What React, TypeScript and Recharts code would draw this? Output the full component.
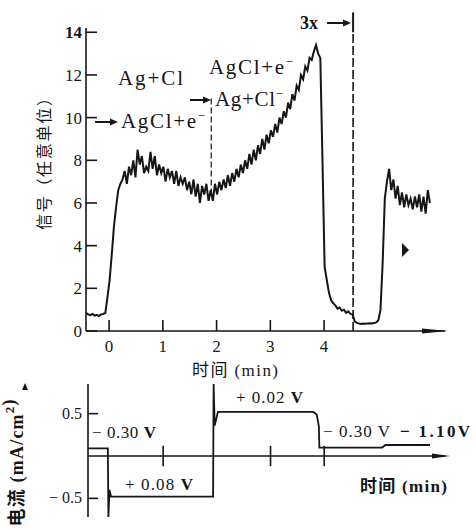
import React from 'react';
import { LineChart, Line, XAxis, YAxis, ReferenceLine } from 'recharts';

const INK = '#161616';
const SERIF = "'Liberation Serif', 'DejaVu Serif', 'Noto Sans CJK SC', serif";
const CJK = "'Noto Sans CJK SC', sans-serif";

const signalStart = -0.43;
const signalStep = 0.04;
const signalValues = [
  0.85, 0.78, 0.74, 0.8, 0.72, 0.76, 0.7, 0.78, 0.8,
  0.85, 1.6, 2.4, 3.6, 4.9, 5.8, 6.6, 6.9, 7.1,
  7.5, 6.9, 7.7, 7.3, 8.0, 7.2, 8.5, 7.8, 8.2, 7.4, 7.7, 7.5, 8.4, 7.6, 8.2, 7.3, 7.8, 7.4, 7.7, 7.0,
  7.6, 7.2, 7.5, 6.9, 7.5, 6.8, 7.2, 6.9, 7.2, 6.6, 7.0, 6.4, 7.1, 6.3, 6.9, 6.0, 6.8, 6.4, 6.9, 6.1, 6.6,
  6.1, 6.9, 6.4, 7.0, 6.6, 7.1, 6.7, 7.3, 6.8, 7.4, 7.0, 7.6, 7.2, 7.8, 7.4, 8.0, 7.6, 8.3, 7.8, 8.5,
  8.0, 8.7, 8.3, 9.0, 8.5, 9.2, 8.8, 9.4, 9.1, 9.7, 9.3, 10.0, 9.7, 10.3, 10.0, 10.7, 10.4, 11.1, 10.8,
  11.5, 11.3, 12.0, 11.8, 12.4, 12.2, 12.8, 12.7, 13.1, 13.4,
  13.0, 12.8, 8.0, 3.0, 2.4, 1.8, 1.45, 1.3, 1.2, 1.05, 1.1, 0.95, 1.0, 0.85, 0.92, 0.8, 0.78, 0.45, 0.38,
  0.35, 0.33, 0.35, 0.34, 0.35, 0.36, 0.35, 0.37, 0.4,
  0.5, 1.0, 3.2, 6.2, 7.0, 7.6, 6.6,
  7.1, 6.2, 6.8, 5.9, 6.5, 5.8, 6.4, 5.9, 6.2, 5.7, 6.3, 5.8, 6.4, 5.6, 6.3, 5.5, 6.6, 6.0,
];
const signalTicksX = [0, 1, 2, 3, 4];
const signalTicksY = [0, 2, 4, 6, 8, 10, 12, 14];

// bottom panel: current density (mA/cm2) under the potential steps
const currentTimes = [-0.4, -0.03, -0.02, 0.0, 0.03, 1.93, 1.94, 1.96, 2.02, 3.8, 3.86, 3.9, 3.91, 5.08, 5.14, 5.97];
const currentValues = [0.09, 0.09, -0.72, -0.4, -0.48, -0.48, 0.85, 0.36, 0.52, 0.52, 0.49, 0.35, 0.1, 0.1, 0.13, 0.13];
const currentTicksX = [1, 3, 4];
const currentTicksY = [-0.5, 0.5];

const signalData = signalValues.map((v, i) => ({ t: signalStart + i * signalStep, v }));
const currentData = currentTimes.map((t, i) => ({ t, i: currentValues[i] }));

const SignalXTick = (props: any) => {
  const { x, y, payload } = props;
  return (
    <g>
      <line x1={x} y1={y} x2={x} y2={y - 11} stroke={INK} strokeWidth={1.6} />
      <text x={x} y={y + 21} textAnchor="middle" fontFamily={SERIF} fontSize={17} fill={INK}>
        {payload.value}
      </text>
    </g>
  );
};

const SignalYTick = (props: any) => {
  const { x, y, payload } = props;
  const top = payload.value === 14;
  return (
    <g>
      <line x1={x} y1={y} x2={x + 11} y2={y} stroke={INK} strokeWidth={1.6} />
      <text
        x={x - 4}
        y={y + 6}
        textAnchor="end"
        fontFamily={SERIF}
        fontSize={17}
        fontWeight={top ? 'bold' : 'normal'}
        fill={INK}
      >
        {payload.value}
      </text>
    </g>
  );
};

const CurrentYTick = (props: any) => {
  const { x, y, payload } = props;
  const label = payload.value < 0 ? '− 0.5' : '0.5';
  return (
    <g>
      <line x1={x} y1={y} x2={x + 10} y2={y} stroke={INK} strokeWidth={1.6} />
      <text x={x - 6} y={y + 5} textAnchor="end" fontFamily={SERIF} fontSize={16} fill={INK}>
        {label}
      </text>
    </g>
  );
};

const Sup = ({ children }: { children: React.ReactNode }) => (
  <tspan dy={-8} fontSize={13}>{children}</tspan>
);

const Annotations = () => (
  <svg width={476} height={530} style={{ position: 'absolute', left: 0, top: 0, pointerEvents: 'none' }}>
    <g fill={INK} stroke="none">
      {/* axis arrow heads */}
      <polygon points="422,328.5 448,331 422,333.5" />
      <polygon points="432,453.5 450,456 432,458.5" />

      {/* top panel axis labels */}
      <text
        x={43}
        y={160}
        transform="rotate(-90 43 160)"
        textAnchor="middle"
        dominantBaseline="central"
        fontFamily={CJK}
        fontSize={16}
        textLength={140}
        lengthAdjust="spacing"
      >
        信号（任意单位）
      </text>
      <text x={192} y={376} fontFamily={SERIF} fontSize={17} textLength={86} lengthAdjust="spacing">
        时间 (min)
      </text>

      {/* reaction labels */}
      <text x={118} y={85} fontFamily={SERIF} fontSize={21} textLength={65} lengthAdjust="spacing">
        Ag+Cl
      </text>
      <line x1={95} y1={122} x2={112} y2={122} stroke={INK} strokeWidth={2} />
      <polygon points="110,118.5 118,122 110,125.5" />
      <text x={121} y={128} fontFamily={SERIF} fontSize={21} textLength={84} lengthAdjust="spacing">
        AgCl+e<Sup>−</Sup>
      </text>

      <text x={209} y={74} fontFamily={SERIF} fontSize={21} textLength={84} lengthAdjust="spacing">
        AgCl+e<Sup>−</Sup>
      </text>
      <line x1={190} y1={100} x2={205} y2={100} stroke={INK} strokeWidth={2} />
      <polygon points="203,96.5 211,100 203,103.5" />
      <text x={215} y={106} fontFamily={SERIF} fontSize={21} textLength={68} lengthAdjust="spacing">
        Ag+Cl<Sup>−</Sup>
      </text>

      <text x={300} y={29} fontFamily={SERIF} fontSize={18} fontWeight="bold">
        3x
      </text>
      <line x1={327} y1={23} x2={345} y2={23} stroke={INK} strokeWidth={2} />
      <polygon points="343,19.5 351,23 343,26.5" />

      <polygon points="402,243 409,250 402,257" />

      {/* bottom panel labels */}
      <polygon points="22,390 28,390 25,383" />
      <text
        x={17}
        y={463}
        transform="rotate(-90 17 463)"
        textAnchor="middle"
        dominantBaseline="central"
        fontFamily={SERIF}
        fontSize={18}
        fontWeight="bold"
        textLength={127}
        lengthAdjust="spacing"
      >
        电流 (mA/cm<Sup>2</Sup>)
      </text>
      <text x={92} y={438} fontFamily={SERIF} fontSize={17} textLength={64} lengthAdjust="spacing">
        − 0.30 <tspan fontWeight="bold">V</tspan>
      </text>
      <text x={125} y={490} fontFamily={SERIF} fontSize={17} textLength={68} lengthAdjust="spacing">
        + 0.08 <tspan fontWeight="bold">V</tspan>
      </text>
      <text x={236} y={403} fontFamily={SERIF} fontSize={17} textLength={67} lengthAdjust="spacing">
        + 0.02 <tspan fontWeight="bold">V</tspan>
      </text>
      <text x={323} y={437} fontFamily={SERIF} fontSize={17} textLength={67} lengthAdjust="spacing">
        − 0.30 V
      </text>
      <text x={400} y={437} fontFamily={SERIF} fontSize={17} fontWeight="bold" textLength={70} lengthAdjust="spacing">
        − 1.10V
      </text>
      <text x={360} y={492} fontFamily={SERIF} fontSize={17} fontWeight="bold" textLength={87} lengthAdjust="spacing">
        时间 (min)
      </text>
    </g>
  </svg>
);

const App = () => {
  return (
    <div style={{ position: 'absolute', left: 0, top: 0, width: 476, height: 530, background: '#fff' }}>
      <div style={{ position: 'absolute', left: 0, top: 0 }}>
        <LineChart width={476} height={380} data={signalData} margin={{ top: 28, right: 31, bottom: 48, left: 85 }}>
          <XAxis
            dataKey="t"
            type="number"
            domain={[-0.43, 6.25]}
            allowDataOverflow
            ticks={signalTicksX}
            interval={0}
            height={1}
            tickLine={false}
            tickSize={0}
            tickMargin={0}
            tick={<SignalXTick />}
            axisLine={{ stroke: INK, strokeWidth: 1.6 }}
          />
          <YAxis
            type="number"
            domain={[0, 14.2]}
            allowDataOverflow
            ticks={signalTicksY}
            interval={0}
            width={1}
            tickLine={false}
            tickSize={0}
            tickMargin={0}
            tick={<SignalYTick />}
            axisLine={{ stroke: INK, strokeWidth: 1.6 }}
          />
          <ReferenceLine
            segment={[{ x: 1.9, y: 6.4 }, { x: 1.9, y: 10.9 }]}
            stroke={INK}
            strokeWidth={1.2}
            strokeDasharray="6 3"
          />
          <ReferenceLine
            segment={[{ x: 4.54, y: 0 }, { x: 4.54, y: 14.05 }]}
            stroke={INK}
            strokeWidth={1.6}
            strokeDasharray="9 3"
          />
          <ReferenceLine
            segment={[{ x: 4.54, y: 14.0 }, { x: 4.54, y: 14.93 }]}
            stroke={INK}
            strokeWidth={2}
            ifOverflow="visible"
          />
          <Line
            dataKey="v"
            type="linear"
            stroke={INK}
            strokeWidth={2}
            dot={false}
            activeDot={false}
            isAnimationActive={false}
          />
        </LineChart>
      </div>

      <div style={{ position: 'absolute', left: 0, top: 370 }}>
        <LineChart width={476} height={160} data={currentData} margin={{ top: 14, right: 31, bottom: 13, left: 87 }}>
          <XAxis dataKey="t" type="number" domain={[-0.4, 6.25]} allowDataOverflow hide />
          <YAxis
            type="number"
            domain={[-0.72, 0.85]}
            allowDataOverflow
            ticks={currentTicksY}
            interval={0}
            width={1}
            tickLine={false}
            tickSize={0}
            tickMargin={0}
            tick={<CurrentYTick />}
            axisLine={{ stroke: INK, strokeWidth: 1.6 }}
          />
          <ReferenceLine y={0} stroke={INK} strokeWidth={1.6} />
          {currentTicksX.map((tk) => (
            <ReferenceLine
              key={tk}
              segment={[{ x: tk, y: -0.12 }, { x: tk, y: 0.12 }]}
              stroke={INK}
              strokeWidth={1.6}
            />
          ))}
          <Line
            dataKey="i"
            type="linear"
            stroke={INK}
            strokeWidth={1.8}
            dot={false}
            activeDot={false}
            isAnimationActive={false}
          />
        </LineChart>
      </div>

      <Annotations />
    </div>
  );
};

export default App;
